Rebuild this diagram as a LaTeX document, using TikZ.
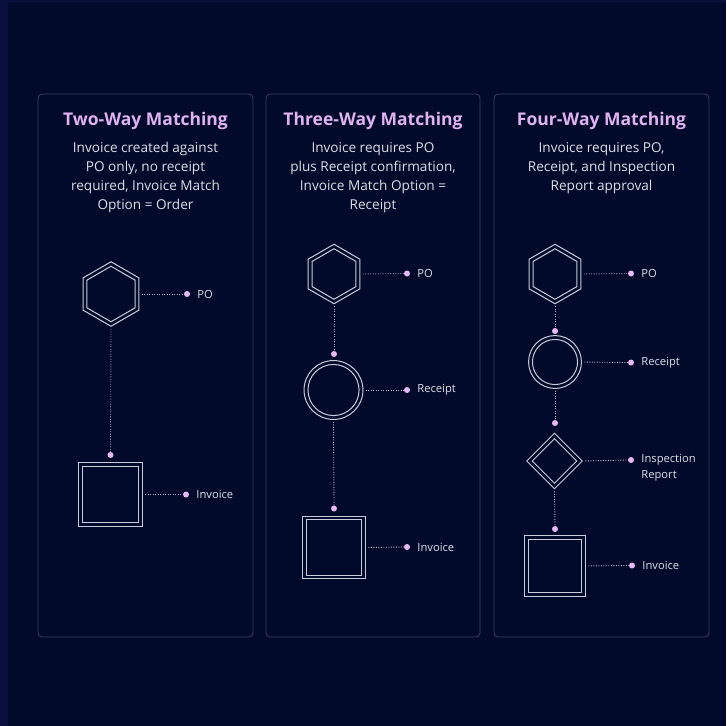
\documentclass[tikz,border=0pt]{standalone}
\usepackage{fontspec}
\setmainfont{Open Sans}
\usetikzlibrary{shapes.geometric}
\definecolor{bgc}{HTML}{020A2B}
\definecolor{framec}{HTML}{0B0F3E}
\definecolor{pborder}{HTML}{3A4266}
\definecolor{shp}{HTML}{C8CCDA}
\definecolor{dotc}{HTML}{B8BCCE}
\definecolor{pinkc}{HTML}{E8B8F4}
\definecolor{ttl}{HTML}{E0B2F2}
\definecolor{txt}{HTML}{DCDEE6}
\tikzset{
  panel/.style={draw=pborder, line width=0.8pt, rounded corners=4pt, fill=bgc},
  ol/.style={draw=shp, line width=1pt, inner sep=0pt, fill=none},
  hexa/.style={ol, regular polygon, regular polygon sides=6, shape border rotate=90, minimum size=#1},
  diam/.style={ol, regular polygon, regular polygon sides=4, shape border rotate=45, minimum size=#1},
  ring/.style={ol, circle, minimum size=#1},
  sq/.style={ol, rectangle, minimum size=#1},
  pdot/.style={circle, fill=pinkc, minimum size=6pt, inner sep=0pt},
  link/.style={draw=dotc, line width=0.9pt, dash pattern=on 0.9pt off 1.6pt},
  hlink/.style={link, shorten <=2.5pt},
  vlink/.style={link, shorten <=2pt},
  ttlstyle/.style={text=ttl, font=\fontsize{17.5}{21}\selectfont\bfseries},
  descstyle/.style={text=txt, font=\fontsize{13.6}{19}\selectfont, align=center, anchor=north, inner sep=0pt},
  lbl/.style={text=txt, font=\fontsize{11.2}{16}\selectfont, anchor=west, inner sep=0pt, xshift=7pt, align=left}
}
\begin{document}
\begin{tikzpicture}[x=1pt,y=-1pt]
\useasboundingbox (0,0) rectangle (726,726);
\fill[framec] (0,0) rectangle (726,726);
\fill[bgc] (8,2) rectangle (726,726);

% panels
\draw[panel] (38,94) rectangle (253,637);
\draw[panel] (266,94) rectangle (480,637);
\draw[panel] (494,94) rectangle (709,637);

% titles
\node[ttlstyle] (t1) at (145.5,121) {Two-Way Matching};
\node[ttlstyle] (t2) at (373,121) {Three-Way Matching};
\node[ttlstyle] (t3) at (601.5,121) {Four-Way Matching};

\node[descstyle] (d1) at (145.5,142) {Invoice created against\\PO only, no receipt\\required, Invoice Match\\Option = Order};
\node[descstyle] (d2) at (373,142) {Invoice requires PO\\plus Receipt confirmation,\\Invoice Match Option =\\Receipt};
\node[descstyle] (d3) at (601.5,142) {Invoice requires PO,\\Receipt, and Inspection\\Report approval};

% panel 1
\node[hexa=64.5pt] (h1) at (111,294) {};
\node[hexa=55.5pt] (h1i) at (111,294) {};
\node[pdot] (h1d) at (187,294) {};
\node[lbl] (h1l) at (h1d.east) {PO};
\node[pdot] (v1a) at (110.5,455) {};
\node[sq=63.9pt] (s1) at (110.5,494.5) {};
\node[sq=56.1pt] (s1i) at (110.5,494.5) {};
\node[pdot] (s1d) at (186,494.5) {};
\node[lbl] (s1l) at (s1d.east) {Invoice};
\draw[hlink] (h1.east) -- (h1d.west);
\draw[hlink] (s1.east) -- (s1d.west);
\draw[vlink] (h1.south) -- (v1a.north);

% panel 2
\node[hexa=59.5pt] (h2) at (334,274) {};
\node[hexa=50.5pt] (h2i) at (334,274) {};
\node[pdot] (h2d) at (407,273.5) {};
\node[lbl] (h2l) at (h2d.east) {PO};
\node[pdot] (v2a) at (334,354) {};
\node[ring=58.9pt] (c2) at (333.5,390) {};
\node[ring=51.1pt] (c2i) at (333.5,390) {};
\node[pdot] (c2d) at (407,390) {};
\node[lbl] (c2l) at (c2d.east) {Receipt};
\node[pdot] (v2b) at (334,508.5) {};
\node[sq=62.9pt] (s2) at (334,547.5) {};
\node[sq=55.1pt] (s2i) at (334,547.5) {};
\node[pdot] (s2d) at (407,547) {};
\node[lbl] (s2l) at (s2d.east) {Invoice};
\draw[hlink] (h2.east) -- (h2d.west);
\draw[hlink] (c2.east) -- (c2d.west);
\draw[hlink] (s2.east) -- (s2d.west);
\draw[vlink] (h2.south) -- (v2a.north);
\draw[vlink] (c2.south) -- (v2b.north);

% panel 3
\node[hexa=59.5pt] (h3) at (555,274) {};
\node[hexa=50.5pt] (h3i) at (555,274) {};
\node[pdot] (h3d) at (631,273.5) {};
\node[lbl] (h3l) at (h3d.east) {PO};
\node[pdot] (v3a) at (555,331) {};
\node[ring=52.9pt] (c3) at (555,362) {};
\node[ring=45.1pt] (c3i) at (555,362) {};
\node[pdot] (c3d) at (631,362.5) {};
\node[lbl] (c3l) at (c3d.east) {Receipt};
\node[pdot] (v3b) at (555,423) {};
\node[diam=55.5pt] (q3) at (554.5,461) {};
\node[diam=44.5pt] (q3i) at (554.5,461) {};
\node[pdot] (q3d) at (631,460) {};
\node[lbl, yshift=-8pt] (q3l) at (q3d.east) {Inspection\\Report};
\node[pdot] (v3c) at (555,529) {};
\node[sq=60.9pt] (s3) at (555,566) {};
\node[sq=53.1pt] (s3i) at (555,566) {};
\node[pdot] (s3d) at (632,565.5) {};
\node[lbl] (s3l) at (s3d.east) {Invoice};
\draw[hlink] (h3.east) -- (h3d.west);
\draw[hlink] (c3.east) -- (c3d.west);
\draw[hlink] (q3.east) -- (q3d.west);
\draw[hlink] (s3.east) -- (s3d.west);
\draw[vlink] (h3.south) -- (v3a.north);
\draw[vlink] (c3.south) -- (v3b.north);
\draw[vlink] (q3.south) -- (v3c.north);
\end{tikzpicture}
\end{document}
